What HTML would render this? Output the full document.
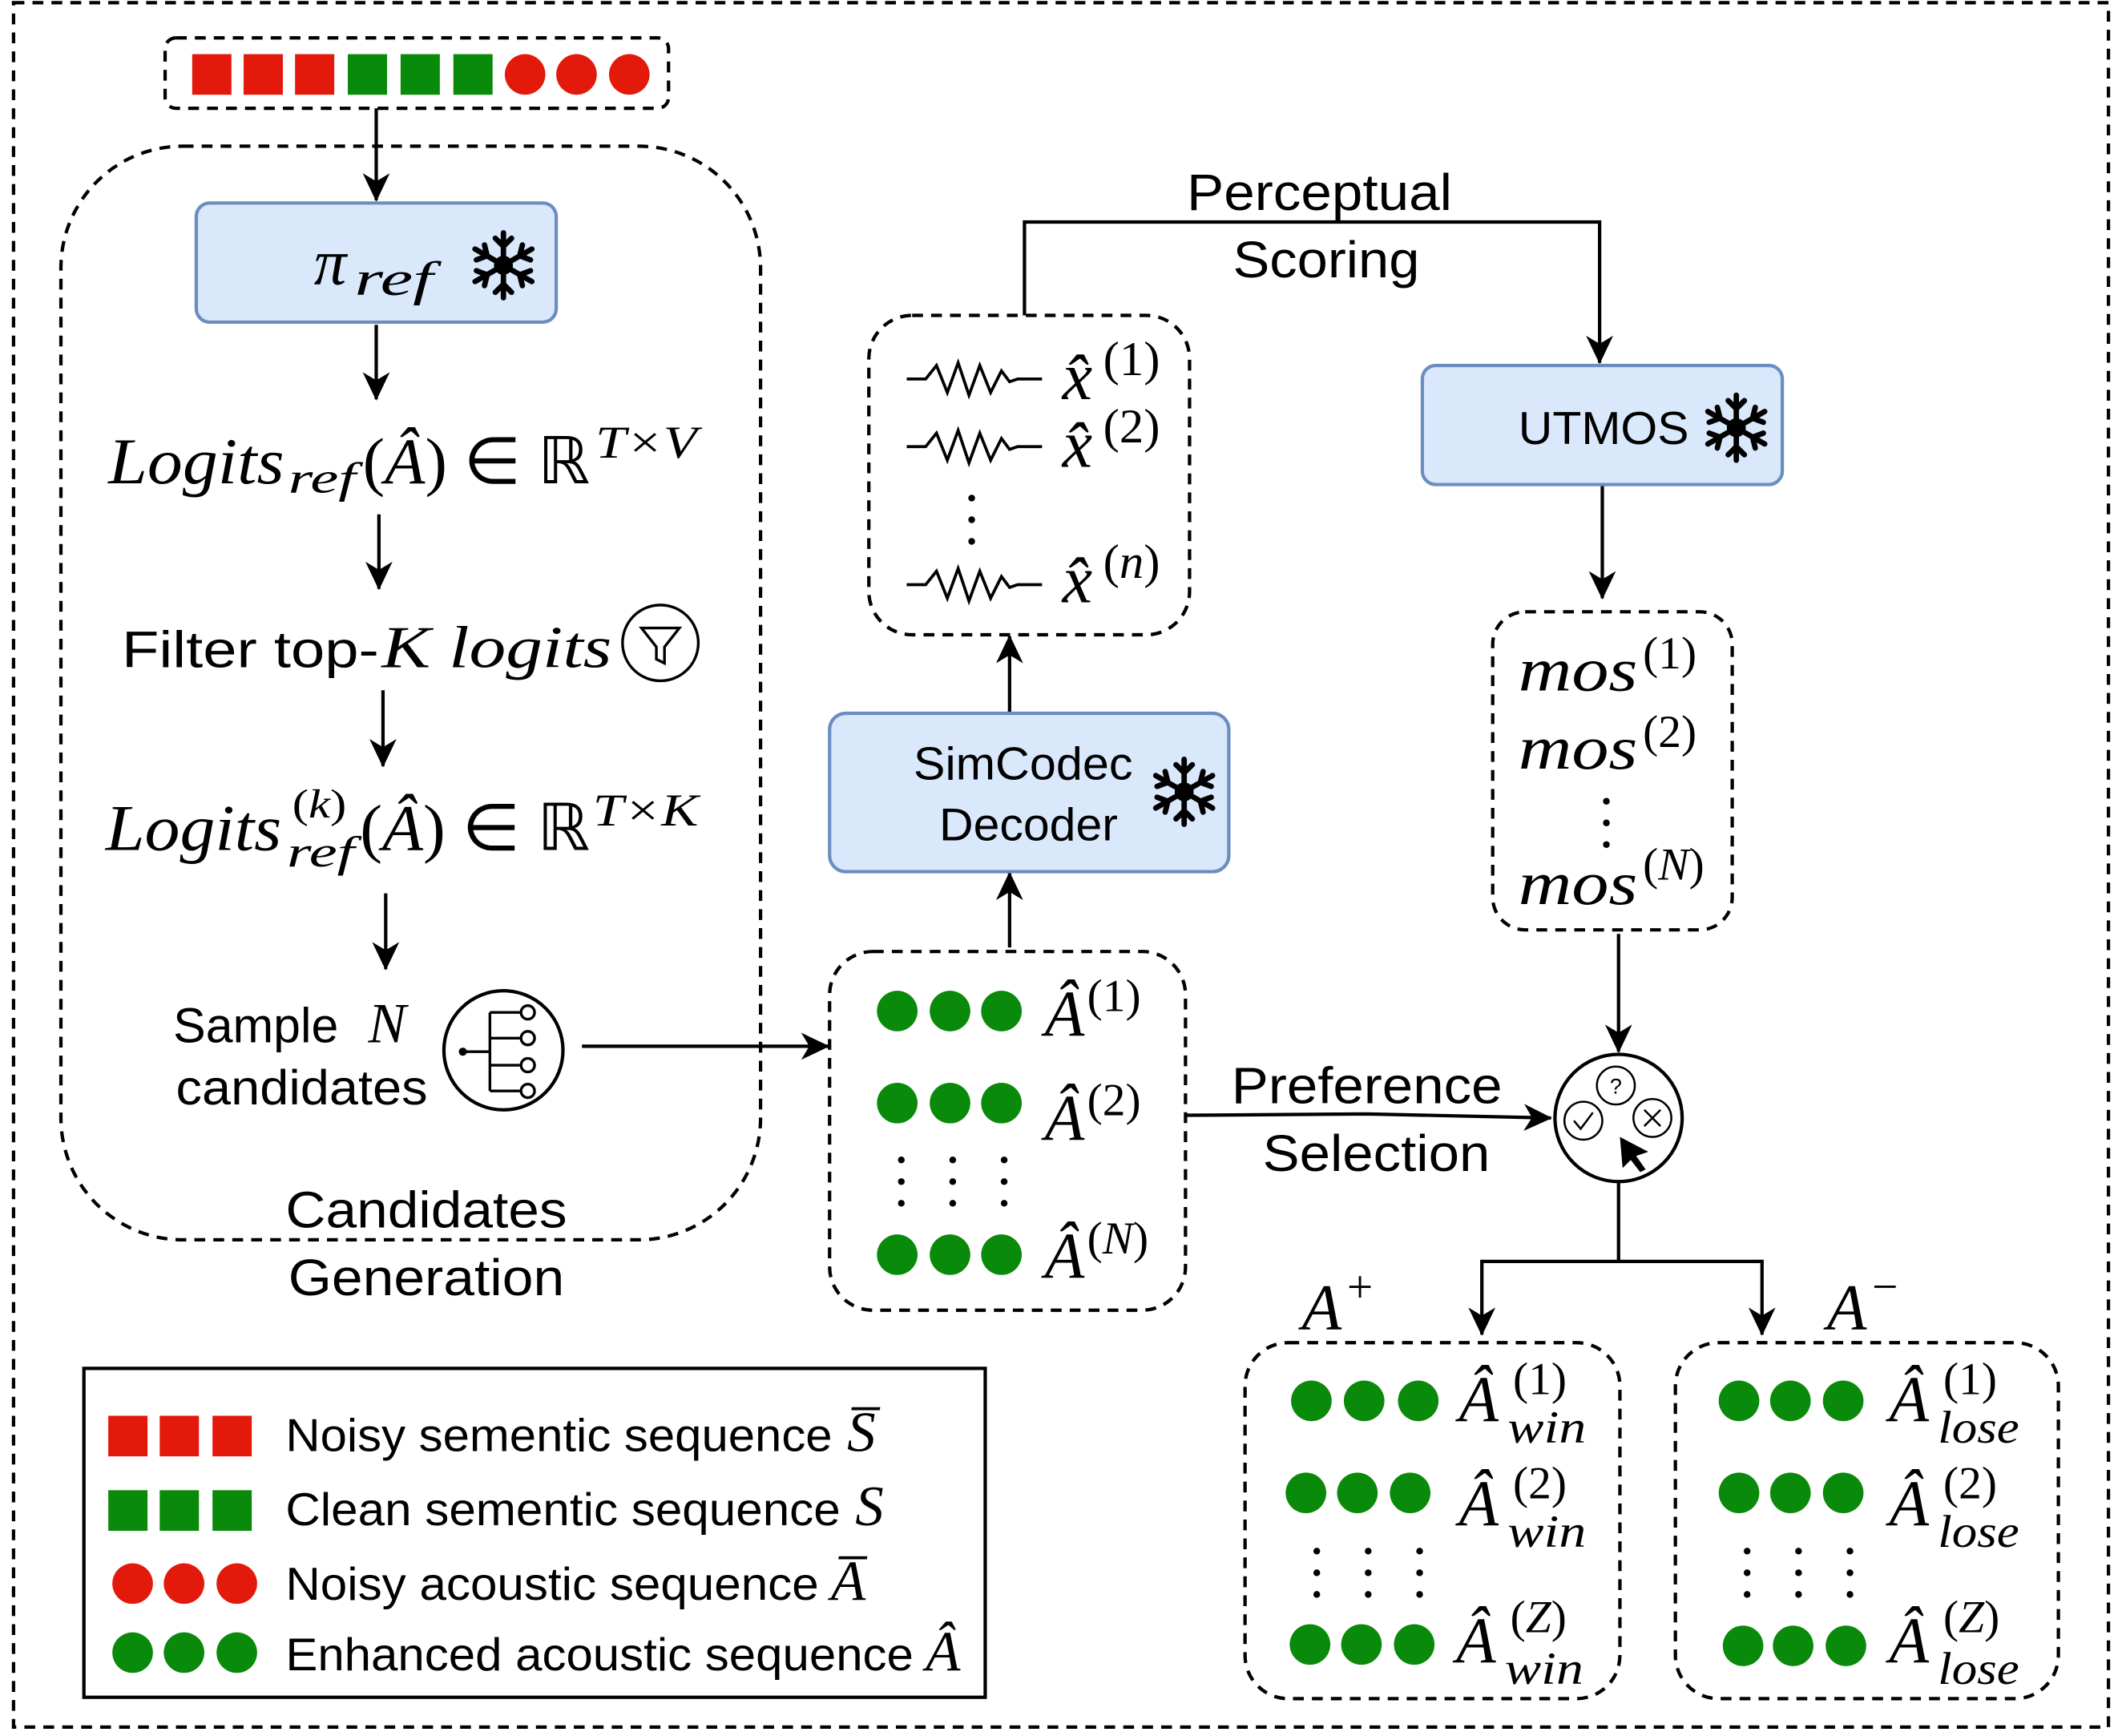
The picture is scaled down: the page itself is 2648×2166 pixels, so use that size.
<!DOCTYPE html>
<html><head><meta charset="utf-8"><style>
html,body{margin:0;padding:0;background:#fff}
svg{display:block}
.s{font-family:"Liberation Sans",sans-serif;fill:#000}
.m{font-family:"Liberation Serif",serif;font-style:italic;fill:#000}
.r{font-family:"Liberation Serif",serif;font-style:normal;fill:#000}
</style></head><body>
<svg width="2648" height="2166" viewBox="0 0 1568 1282.6" xmlns="http://www.w3.org/2000/svg">
<defs>
<marker id="a2" markerWidth="22" markerHeight="22" refX="20" refY="11" orient="auto" markerUnits="userSpaceOnUse">
<path d="M0,1 L21,11 L0,21 L6,11 z" fill="#000"/>
</marker>
<g id="snow" stroke="#000" stroke-width="4" stroke-linecap="round" fill="none">
<line x1="0" y1="-24" x2="0" y2="24"/><line x1="-21" y1="-12" x2="21" y2="12"/><line x1="-21" y1="12" x2="21" y2="-12"/>
<path d="M-6,-20 L0,-14 L6,-20 M-6,20 L0,14 L6,20 M-20,-4 L-12,-7 L-14,-15 M20,4 L12,7 L14,15 M-20,4 L-12,7 L-14,15 M20,-4 L12,-7 L14,-15"/>
<circle r="5" fill="#000"/>
</g>
<g id="wave" fill="none" stroke="#000" stroke-width="2.2">
<path d="M0,0 L14,0 L22,-10 L30,10 L38,-12 L46,12 L54,-10 L62,10 L70,-6 L76,2 L82,0 L100,0"/>
</g>
</defs>
<g fill="none" stroke="#000" stroke-width="2.5" stroke-dasharray="8,6">
<rect x="10" y="2" width="1548" height="1274"/>
<rect x="122" y="28" width="372" height="52" rx="8"/>
<rect x="45" y="108" width="517" height="808" rx="90"/>
<rect x="613" y="703" width="263" height="265" rx="32"/>
<rect x="642" y="233" width="237" height="236" rx="32"/>
<rect x="1103" y="452" width="177" height="235" rx="24"/>
<rect x="920" y="992" width="277" height="263" rx="32"/>
<rect x="1238" y="992" width="283" height="263" rx="32"/>
</g>
<rect x="62" y="1011" width="666" height="243" fill="none" stroke="#000" stroke-width="2.5"/>
<g fill="#e31a0b"><rect x="142" y="40" width="29" height="30"/><rect x="180" y="40" width="29" height="30"/><rect x="218" y="40" width="29" height="30"/></g>
<g fill="#0a8a0a"><rect x="257" y="40" width="29" height="30"/><rect x="296" y="40" width="29" height="30"/><rect x="335" y="40" width="29" height="30"/></g>
<g fill="#e31a0b"><circle cx="388" cy="55" r="15"/><circle cx="426" cy="55" r="15"/><circle cx="465" cy="55" r="15"/></g>
<g stroke="#000" stroke-width="2.5" fill="none" marker-end="url(#a2)">
<line x1="278" y1="80" x2="278" y2="148"/>
<line x1="278" y1="240" x2="278" y2="295"/>
<line x1="280" y1="380" x2="280" y2="435"/>
<line x1="283" y1="510" x2="283" y2="566"/>
<line x1="285" y1="660" x2="285" y2="716"/>
<line x1="430" y1="773" x2="612" y2="773"/>
<line x1="746" y1="700" x2="746" y2="645"/>
<line x1="746" y1="527" x2="746" y2="470"/>
<polyline points="757,233 757,164 1182,164 1182,268"/>
<line x1="1184" y1="358" x2="1184" y2="442"/>
<line x1="1196" y1="690" x2="1196" y2="777"/>
<polyline points="877,824 1010,823 1146,826"/>
<polyline points="1196,873 1196,932 1095,932 1095,986"/>
<polyline points="1196,932 1302,932 1302,986"/>
</g>
<rect x="145" y="150" width="266" height="88" rx="10" fill="#dae8fc" stroke="#6c8ebf" stroke-width="2.5"/>
<text x="232" y="210" class="m" font-size="48">π</text>
<text x="262" y="218" class="m" font-size="36" textLength="58" lengthAdjust="spacingAndGlyphs">ref</text>
<use href="#snow" x="372" y="196"/>
<text x="80" y="357" class="m" font-size="48" textLength="130" lengthAdjust="spacingAndGlyphs">Logits</text>
<text x="213" y="364" class="m" font-size="32" textLength="50" lengthAdjust="spacingAndGlyphs">ref</text>
<text x="268" y="357" class="r" font-size="48" textLength="168" lengthAdjust="spacingAndGlyphs">(<tspan font-style="italic">Â</tspan>) ∈ ℝ</text>
<text x="440" y="338" class="m" font-size="34" textLength="75" lengthAdjust="spacingAndGlyphs">T×V</text>
<text x="90" y="493" class="s" font-size="38" textLength="190" lengthAdjust="spacingAndGlyphs">Filter top-</text>
<text x="282" y="493" class="m" font-size="44" textLength="170" lengthAdjust="spacingAndGlyphs">K logits</text>
<circle cx="488" cy="475" r="28" fill="none" stroke="#000" stroke-width="2"/>
<path d="M474,464 L502,464 L491,478 L491,490 L485,487 L485,478 Z" fill="none" stroke="#000" stroke-width="2"/>
<text x="78" y="628" class="m" font-size="48" textLength="130" lengthAdjust="spacingAndGlyphs">Logits</text>
<text x="212" y="640" class="m" font-size="32" textLength="50" lengthAdjust="spacingAndGlyphs">ref</text>
<text x="216" y="604" class="r" font-size="30" textLength="40" lengthAdjust="spacingAndGlyphs">(<tspan font-style="italic">k</tspan>)</text>
<text x="266" y="628" class="r" font-size="48" textLength="170" lengthAdjust="spacingAndGlyphs">(<tspan font-style="italic">Â</tspan>) ∈ ℝ</text>
<text x="438" y="610" class="m" font-size="34" textLength="78" lengthAdjust="spacingAndGlyphs">T×K</text>
<text x="128" y="770" class="s" font-size="36">Sample</text>
<text x="272" y="770" class="m" font-size="42">N</text>
<text x="130" y="816" class="s" font-size="36" textLength="186" lengthAdjust="spacingAndGlyphs">candidates</text>
<circle cx="372" cy="776" r="44" fill="none" stroke="#000" stroke-width="2.5"/>
<g stroke="#000" stroke-width="2" fill="none"><line x1="342" y1="777" x2="362" y2="777"/><line x1="362" y1="748" x2="362" y2="806"/>
<line x1="362" y1="748" x2="384" y2="748"/><line x1="362" y1="767" x2="384" y2="767"/><line x1="362" y1="787" x2="384" y2="787"/><line x1="362" y1="806" x2="384" y2="806"/>
<circle cx="390" cy="748" r="5"/><circle cx="390" cy="767" r="5"/><circle cx="390" cy="787" r="5"/><circle cx="390" cy="806" r="5"/></g>
<circle cx="342" cy="777" r="3" fill="#000"/>
<text x="315" y="907" class="s" font-size="38" text-anchor="middle" textLength="208" lengthAdjust="spacingAndGlyphs">Candidates</text>
<text x="315" y="957" class="s" font-size="38" text-anchor="middle" textLength="204" lengthAdjust="spacingAndGlyphs">Generation</text>
<g fill="#0a8a0a">
<circle cx="663" cy="747" r="15"/><circle cx="702" cy="747" r="15"/><circle cx="740" cy="747" r="15"/>
<circle cx="663" cy="815" r="15"/><circle cx="702" cy="815" r="15"/><circle cx="740" cy="815" r="15"/>
<circle cx="663" cy="927" r="15"/><circle cx="702" cy="927" r="15"/><circle cx="740" cy="927" r="15"/>
</g>
<g fill="#000"><circle cx="666" cy="857" r="2.5"/><circle cx="666" cy="873" r="2.5"/><circle cx="666" cy="889" r="2.5"/>
<circle cx="704" cy="857" r="2.5"/><circle cx="704" cy="873" r="2.5"/><circle cx="704" cy="889" r="2.5"/>
<circle cx="742" cy="857" r="2.5"/><circle cx="742" cy="873" r="2.5"/><circle cx="742" cy="889" r="2.5"/></g>
<text x="772" y="765" class="m" font-size="48">Â<tspan class="r" font-size="34" dx="2" dy="-18">(1)</tspan></text>
<text x="772" y="842" class="m" font-size="48">Â<tspan class="r" font-size="34" dx="2" dy="-18">(2)</tspan></text>
<text x="772" y="944" class="m" font-size="48">Â<tspan font-size="34" dx="2" dy="-18"><tspan font-style="normal">(</tspan>N<tspan font-style="normal">)</tspan></tspan></text>
<rect x="613" y="527" width="295" height="117" rx="12" fill="#dae8fc" stroke="#6c8ebf" stroke-width="2.5"/>
<text x="756" y="576" class="s" font-size="34" text-anchor="middle" textLength="162" lengthAdjust="spacingAndGlyphs">SimCodec</text>
<text x="760" y="621" class="s" font-size="34" text-anchor="middle" textLength="132" lengthAdjust="spacingAndGlyphs">Decoder</text>
<use href="#snow" x="875" y="585"/>
<use href="#wave" x="670" y="280"/><use href="#wave" x="670" y="330"/><use href="#wave" x="670" y="432"/>
<g fill="#000"><circle cx="718" cy="368" r="2.5"/><circle cx="718" cy="384" r="2.5"/><circle cx="718" cy="400" r="2.5"/></g>
<text x="785" y="295" class="m" font-size="50">x̂<tspan class="r" font-size="36" dx="8" dy="-18">(1)</tspan></text>
<text x="785" y="345" class="m" font-size="50">x̂<tspan class="r" font-size="36" dx="8" dy="-18">(2)</tspan></text>
<text x="785" y="445" class="m" font-size="50">x̂<tspan font-size="36" dx="8" dy="-18"><tspan font-style="normal">(</tspan>n<tspan font-style="normal">)</tspan></tspan></text>
<text x="975" y="155" class="s" font-size="38" text-anchor="middle" textLength="196" lengthAdjust="spacingAndGlyphs">Perceptual</text>
<text x="980" y="205" class="s" font-size="38" text-anchor="middle" textLength="138" lengthAdjust="spacingAndGlyphs">Scoring</text>
<rect x="1051" y="270" width="266" height="88" rx="10" fill="#dae8fc" stroke="#6c8ebf" stroke-width="2.5"/>
<text x="1185" y="328" class="s" font-size="34" text-anchor="middle" textLength="126" lengthAdjust="spacingAndGlyphs">UTMOS</text>
<use href="#snow" x="1283" y="316"/>
<text x="1122" y="510" class="m" font-size="46" textLength="88" lengthAdjust="spacingAndGlyphs">mos</text>
<text x="1214" y="494" class="r" font-size="34">(1)</text>
<text x="1122" y="568" class="m" font-size="46" textLength="88" lengthAdjust="spacingAndGlyphs">mos</text>
<text x="1214" y="552" class="r" font-size="34">(2)</text>
<g fill="#000"><circle cx="1187" cy="592" r="2.5"/><circle cx="1187" cy="608" r="2.5"/><circle cx="1187" cy="624" r="2.5"/></g>
<text x="1122" y="668" class="m" font-size="46" textLength="88" lengthAdjust="spacingAndGlyphs">mos</text>
<text x="1214" y="650" class="r" font-size="34">(<tspan font-style="italic">N</tspan>)</text>
<circle cx="1196" cy="826" r="47" fill="#fff" stroke="#000" stroke-width="2.5"/>
<g fill="none" stroke="#000" stroke-width="1.5"><circle cx="1194" cy="802" r="14"/><circle cx="1170" cy="828" r="14"/><circle cx="1221" cy="826" r="14"/>
<path d="M1163,828 L1168,834 L1177,822"/><path d="M1215,820 L1227,832 M1227,820 L1215,832"/></g>
<text x="1194" y="808" class="s" font-size="16" text-anchor="middle">?</text>
<path d="M1197,840 L1218,851 L1209,854 L1216,864 L1212,866 L1205,857 L1199,863 Z" fill="#000"/>
<text x="1010" y="815" class="s" font-size="38" text-anchor="middle" textLength="200" lengthAdjust="spacingAndGlyphs">Preference</text>
<text x="1017" y="865" class="s" font-size="38" text-anchor="middle" textLength="168" lengthAdjust="spacingAndGlyphs">Selection</text>
<text x="962" y="982" class="m" font-size="48">A<tspan class="r" font-size="34" dx="4" dy="-20">+</tspan></text>
<text x="1350" y="982" class="m" font-size="48">A<tspan class="r" font-size="34" dx="4" dy="-20">−</tspan></text>
<g fill="#0a8a0a">
<circle cx="969" cy="1035" r="15"/><circle cx="1008" cy="1035" r="15"/><circle cx="1048" cy="1035" r="15"/>
<circle cx="965" cy="1103" r="15"/><circle cx="1003" cy="1103" r="15"/><circle cx="1042" cy="1103" r="15"/>
<circle cx="968" cy="1215" r="15"/><circle cx="1006" cy="1215" r="15"/><circle cx="1045" cy="1215" r="15"/>
<circle cx="1285" cy="1035" r="15"/><circle cx="1323" cy="1035" r="15"/><circle cx="1362" cy="1035" r="15"/>
<circle cx="1285" cy="1103" r="15"/><circle cx="1323" cy="1103" r="15"/><circle cx="1362" cy="1103" r="15"/>
<circle cx="1288" cy="1216" r="15"/><circle cx="1325" cy="1216" r="15"/><circle cx="1364" cy="1216" r="15"/>
</g>
<g fill="#000">
<circle cx="973" cy="1146" r="2.5"/><circle cx="973" cy="1162" r="2.5"/><circle cx="973" cy="1178" r="2.5"/>
<circle cx="1011" cy="1146" r="2.5"/><circle cx="1011" cy="1162" r="2.5"/><circle cx="1011" cy="1178" r="2.5"/>
<circle cx="1049" cy="1146" r="2.5"/><circle cx="1049" cy="1162" r="2.5"/><circle cx="1049" cy="1178" r="2.5"/>
<circle cx="1291" cy="1146" r="2.5"/><circle cx="1291" cy="1162" r="2.5"/><circle cx="1291" cy="1178" r="2.5"/>
<circle cx="1329" cy="1146" r="2.5"/><circle cx="1329" cy="1162" r="2.5"/><circle cx="1329" cy="1178" r="2.5"/>
<circle cx="1367" cy="1146" r="2.5"/><circle cx="1367" cy="1162" r="2.5"/><circle cx="1367" cy="1178" r="2.5"/>
</g>
<g class="m" font-size="48">
<text x="1078" y="1050">Â</text><text x="1118" y="1030" class="r" font-size="34">(1)</text><text x="1114" y="1066" font-size="34" textLength="58" lengthAdjust="spacingAndGlyphs">win</text>
<text x="1078" y="1127">Â</text><text x="1118" y="1107" class="r" font-size="34">(2)</text><text x="1114" y="1143" font-size="34" textLength="58" lengthAdjust="spacingAndGlyphs">win</text>
<text x="1076" y="1228">Â</text><text x="1116" y="1206" font-size="34"><tspan font-style="normal">(</tspan>Z<tspan font-style="normal">)</tspan></text><text x="1112" y="1244" font-size="34" textLength="58" lengthAdjust="spacingAndGlyphs">win</text>
<text x="1396" y="1050">Â</text><text x="1436" y="1030" class="r" font-size="34">(1)</text><text x="1432" y="1066" font-size="34" textLength="60" lengthAdjust="spacingAndGlyphs">lose</text>
<text x="1396" y="1127">Â</text><text x="1436" y="1107" class="r" font-size="34">(2)</text><text x="1432" y="1143" font-size="34" textLength="60" lengthAdjust="spacingAndGlyphs">lose</text>
<text x="1396" y="1228">Â</text><text x="1436" y="1206" font-size="34"><tspan font-style="normal">(</tspan>Z<tspan font-style="normal">)</tspan></text><text x="1432" y="1244" font-size="34" textLength="60" lengthAdjust="spacingAndGlyphs">lose</text>
</g>
<g fill="#e31a0b"><rect x="80" y="1046" width="29" height="30"/><rect x="118" y="1046" width="29" height="30"/><rect x="157" y="1046" width="29" height="30"/></g>
<g fill="#0a8a0a"><rect x="80" y="1101" width="29" height="30"/><rect x="118" y="1101" width="29" height="30"/><rect x="157" y="1101" width="29" height="30"/></g>
<g fill="#e31a0b"><circle cx="98" cy="1170" r="15"/><circle cx="136" cy="1170" r="15"/><circle cx="175" cy="1170" r="15"/></g>
<g fill="#0a8a0a"><circle cx="98" cy="1221" r="15"/><circle cx="136" cy="1221" r="15"/><circle cx="175" cy="1221" r="15"/></g>
<g class="s" font-size="34">
<text x="211" y="1072" textLength="404" lengthAdjust="spacingAndGlyphs">Noisy sementic sequence</text><text x="626" y="1072" class="m" font-size="42">S̅</text>
<text x="211" y="1127" textLength="410" lengthAdjust="spacingAndGlyphs">Clean sementic sequence</text><text x="632" y="1127" class="m" font-size="42">S</text>
<text x="211" y="1182" textLength="394" lengthAdjust="spacingAndGlyphs">Noisy acoustic sequence</text><text x="614" y="1182" class="m" font-size="42">A̅</text>
<text x="211" y="1234" textLength="464" lengthAdjust="spacingAndGlyphs">Enhanced acoustic sequence</text><text x="684" y="1234" class="m" font-size="42">Â</text>
</g>
</svg>
</body></html>
